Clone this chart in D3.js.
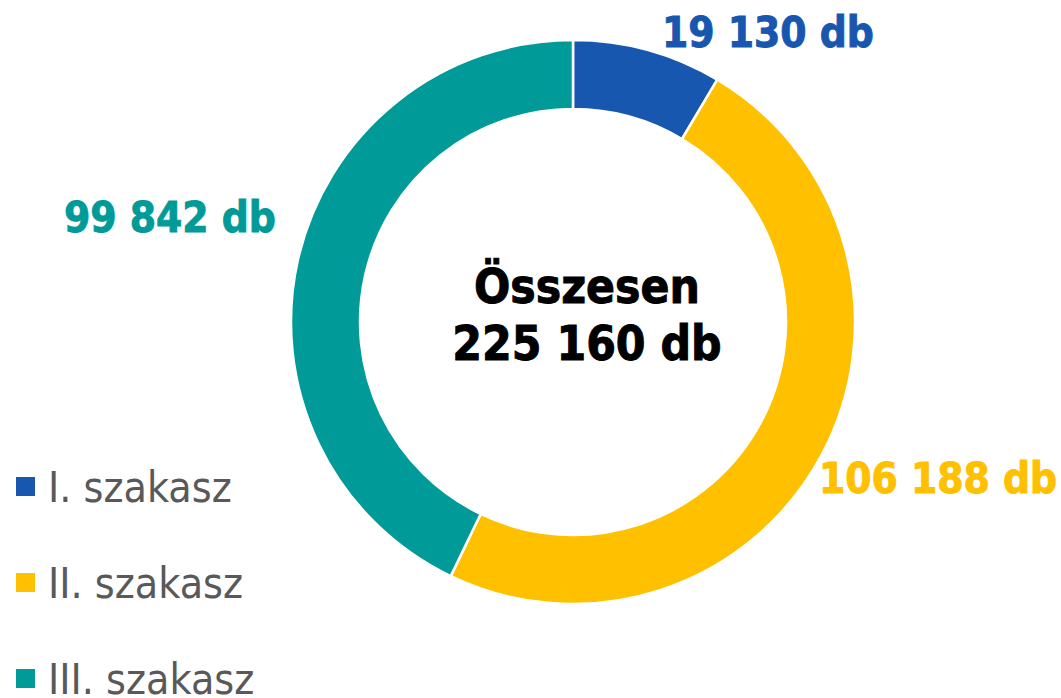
<!DOCTYPE html>
<html>
<head>
<meta charset="utf-8">
<script src="https://cdn.jsdelivr.net/npm/d3@7"></script>
<style>
  html, body { margin: 0; padding: 0; background: #ffffff; }
  #chart svg { display: block; }
  .lbl { font-family: 'DejaVu Sans Condensed', 'DejaVu Sans', sans-serif; font-weight: bold; }
  .leg { font-family: 'DejaVu Sans Condensed', 'DejaVu Sans', sans-serif; fill: #595959; }
</style>
</head>
<body>
<div id="chart"></div>
<script>
  // ── data ──
  const categories  = ["I. szakasz", "II. szakasz", "III. szakasz"];
  const valueLabels = ["19 130 db", "106 188 db", "99 842 db"];
  // ring sizes as the slices are drawn in the picture (estimated from the arcs)
  const ringValues  = [19250, 109400, 96510];
  const totalLines  = ["Összesen", "225 160 db"];
  const colors      = ["#1757B0", "#FFC000", "#009B98"];

  const width = 1061, height = 698;
  const cx = 573, cy = 322;
  const rOuter = 282, rInner = 213;

  const svg = d3.select("#chart").append("svg")
    .attr("width", width)
    .attr("height", height);

  const pie = d3.pie().sort(null).value(d => d);
  const arc = d3.arc().innerRadius(rInner).outerRadius(rOuter);

  const g = svg.append("g").attr("transform", `translate(${cx},${cy})`);

  g.selectAll("path")
    .data(pie(ringValues))
    .enter()
    .append("path")
      .attr("d", arc)
      .attr("fill", (d, i) => colors[i])
      .attr("stroke", "#ffffff")
      .attr("stroke-width", 2.5);

  // value labels, outside the ring as in the original
  const labelPos = [
    { x: 768, y: 47 },
    { x: 938, y: 493 },
    { x: 170, y: 232 }
  ];
  svg.selectAll(".val")
    .data(valueLabels)
    .enter()
    .append("text")
      .attr("class", "lbl val")
      .attr("x", (d, i) => labelPos[i].x)
      .attr("y", (d, i) => labelPos[i].y)
      .attr("text-anchor", "middle")
      .attr("font-size", 42)
      .attr("fill", (d, i) => colors[i])
      .attr("stroke", (d, i) => colors[i])
      .attr("stroke-width", 0.9)
      .text(d => d);

  // centre total
  svg.selectAll(".tot")
    .data(totalLines)
    .enter()
    .append("text")
      .attr("class", "lbl tot")
      .attr("x", 587)
      .attr("y", (d, i) => 303 + i * 57)
      .attr("text-anchor", "middle")
      .attr("font-size", 47.5)
      .attr("fill", "#000000")
      .attr("stroke", "#000000")
      .attr("stroke-width", 0.9)
      .text(d => d);

  // legend
  const item = svg.append("g")
    .selectAll("g")
    .data(categories)
    .enter()
    .append("g")
      .attr("transform", (d, i) => `translate(0,${502 + i * 96})`);

  item.append("rect")
    .attr("x", 16)
    .attr("y", -25)
    .attr("width", 19)
    .attr("height", 19)
    .attr("fill", (d, i) => colors[i]);

  item.append("text")
    .attr("class", "leg")
    .attr("x", 48)
    .attr("y", 0)
    .attr("font-size", 42.5)
    .text(d => d);
</script>
</body>
</html>
